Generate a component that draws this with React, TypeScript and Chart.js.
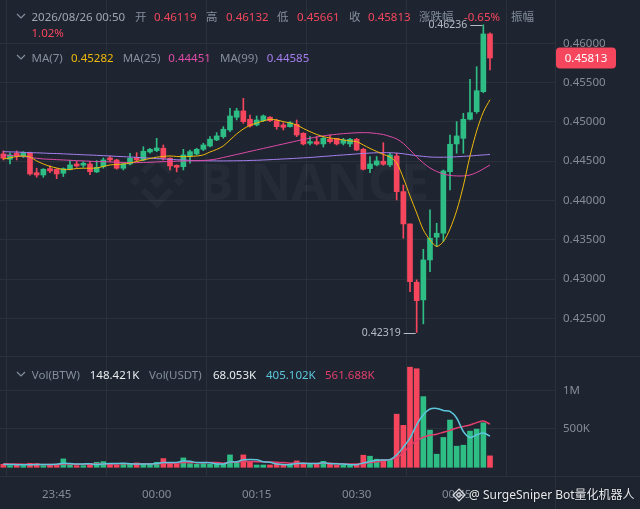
import React, { useEffect, useRef } from 'react';
import { Chart, registerables } from 'chart.js';
Chart.register(...registerables);

// ---------- data ----------
const opens = [0.44592,0.44524,0.44601,0.44566,0.44601,0.44353,0.44324,0.44405,0.44397,0.44346,
 0.44397,0.44464,0.44448,0.44464,0.44363,0.44430,0.44541,0.44515,0.44410,0.44464,
 0.44545,0.44515,0.44617,0.44634,0.44664,0.44537,0.44448,0.44430,0.44570,0.44592,
 0.44651,0.44693,0.44770,0.44812,0.44897,0.45059,0.45139,0.45033,0.44961,0.45015,
 0.45059,0.45015,0.44961,0.44939,0.44969,0.44855,0.44728,0.44748,0.44719,0.44779,
 0.44791,0.44728,0.44719,0.44779,0.44651,0.44405,0.44452,0.44499,0.44452,0.44566,
 0.44112,0.43701,0.42959,0.42734,0.43243,0.43532,0.43583,0.44366,0.44719,0.44791,
 0.45033,0.45130,0.45384,0.46119];
const highs = [0.44630,0.44605,0.44630,0.44621,0.44617,0.44410,0.44405,0.44439,0.44405,0.44414,
 0.44507,0.44498,0.44494,0.44494,0.44507,0.44541,0.44566,0.44524,0.44473,0.44601,
 0.44608,0.44684,0.44664,0.44791,0.44706,0.44541,0.44452,0.44651,0.44642,0.44664,
 0.44728,0.44812,0.44863,0.44939,0.45173,0.45173,0.45300,0.45088,0.45075,0.45088,
 0.45067,0.45033,0.44990,0.45003,0.45024,0.44863,0.44812,0.44812,0.44812,0.44833,
 0.44791,0.44791,0.44791,0.44791,0.44664,0.44558,0.44558,0.44735,0.44601,0.44601,
 0.44197,0.43701,0.42989,0.43379,0.43879,0.43710,0.44388,0.44833,0.45003,0.45109,
 0.45542,0.45702,0.46236,0.46132];
const lows = [0.44515,0.44464,0.44515,0.44545,0.44321,0.44295,0.44295,0.44354,0.44277,0.44304,
 0.44388,0.44422,0.44422,0.44329,0.44354,0.44410,0.44494,0.44397,0.44388,0.44452,
 0.44494,0.44506,0.44601,0.44621,0.44515,0.44388,0.44363,0.44388,0.44473,0.44579,
 0.44634,0.44680,0.44761,0.44791,0.44876,0.45024,0.44982,0.44931,0.44948,0.45003,
 0.45003,0.44906,0.44897,0.44931,0.44812,0.44706,0.44706,0.44706,0.44680,0.44728,
 0.44706,0.44706,0.44684,0.44634,0.44388,0.44354,0.44439,0.44448,0.44430,0.44006,
 0.43519,0.42840,0.42319,0.42429,0.43094,0.43412,0.43476,0.44134,0.44601,0.44601,
 0.45024,0.45109,0.45370,0.45661];
const closes = [0.44537,0.44579,0.44566,0.44608,0.44337,0.44324,0.44397,0.44375,0.44337,0.44405,
 0.44452,0.44439,0.44473,0.44366,0.44422,0.44515,0.44515,0.44410,0.44464,0.44537,
 0.44515,0.44626,0.44651,0.44668,0.44537,0.44439,0.44422,0.44579,0.44621,0.44651,
 0.44706,0.44779,0.44821,0.44906,0.45075,0.45139,0.45003,0.44948,0.45024,0.45075,
 0.45015,0.44939,0.44931,0.44990,0.44833,0.44719,0.44748,0.44719,0.44791,0.44748,
 0.44719,0.44770,0.44779,0.44642,0.44397,0.44464,0.44503,0.44460,0.44579,0.44112,
 0.43701,0.42967,0.42725,0.43243,0.43519,0.43583,0.44375,0.44715,0.44821,0.45033,
 0.45117,0.45397,0.46119,0.45813];
const ma7 = [0.44528,0.44541,0.44560,0.44566,0.44553,0.44503,0.44464,0.44433,0.44413,0.44394,
 0.44394,0.44407,0.44410,0.44410,0.44413,0.44433,0.44452,0.44458,0.44464,0.44477,
 0.44496,0.44515,0.44534,0.44550,0.44560,0.44566,0.44560,0.44557,0.44560,0.44566,
 0.44579,0.44617,0.44649,0.44694,0.44770,0.44846,0.44910,0.44955,0.44986,0.45012,
 0.45033,0.45024,0.45003,0.44986,0.44961,0.44916,0.44876,0.44840,0.44812,0.44795,
 0.44783,0.44770,0.44757,0.44748,0.44706,0.44662,0.44624,0.44585,0.44553,0.44477,
 0.44286,0.44057,0.43841,0.43625,0.43497,0.43415,0.43476,0.43637,0.43870,0.44185,
 0.44566,0.44884,0.45126,0.45282];
const ma25 = [0.44579,0.44573,0.44566,0.44560,0.44547,0.44537,0.44528,0.44524,0.44519,0.44515,
 0.44511,0.44506,0.44503,0.44499,0.44494,0.44494,0.44490,0.44486,0.44483,0.44481,
 0.44481,0.44483,0.44486,0.44490,0.44494,0.44494,0.44499,0.44503,0.44503,0.44506,
 0.44509,0.44515,0.44528,0.44547,0.44566,0.44585,0.44604,0.44624,0.44643,0.44662,
 0.44681,0.44700,0.44719,0.44738,0.44757,0.44776,0.44791,0.44808,0.44821,0.44833,
 0.44842,0.44850,0.44856,0.44861,0.44863,0.44861,0.44851,0.44839,0.44814,0.44783,
 0.44725,0.44643,0.44553,0.44477,0.44413,0.44369,0.44337,0.44318,0.44312,0.44312,
 0.44324,0.44356,0.44401,0.44451];
const ma99 = [0.44621,0.44618,0.44616,0.44612,0.44609,0.44606,0.44603,0.44599,0.44597,0.44593,
 0.44589,0.44585,0.44581,0.44578,0.44574,0.44570,0.44566,0.44561,0.44557,0.44553,
 0.44548,0.44543,0.44538,0.44533,0.44528,0.44523,0.44518,0.44514,0.44510,0.44506,
 0.44505,0.44504,0.44503,0.44503,0.44504,0.44505,0.44506,0.44509,0.44511,0.44515,
 0.44519,0.44523,0.44528,0.44532,0.44537,0.44542,0.44547,0.44553,0.44560,0.44566,
 0.44573,0.44579,0.44585,0.44592,0.44598,0.44603,0.44607,0.44608,0.44607,0.44603,
 0.44594,0.44581,0.44570,0.44561,0.44553,0.44550,0.44550,0.44552,0.44556,0.44561,
 0.44566,0.44573,0.44579,0.44585];
// volume in thousands
const volumesK = [39,22,30,22,52,48,22,39,39,109,
 30,22,22,39,65,74,39,30,48,39,
 57,39,39,65,113,57,48,122,48,39,
 48,39,48,48,161,65,161,74,30,30,
 30,48,39,39,83,52,39,39,78,39,
 30,30,30,39,157,144,105,100,92,690,
 545,1300,1280,918,483,170,388,614,274,287,
 470,496,578,148.421];
const volMaCyanK = [38,36,34,33,33,35,35,37,40,52,
 48,44,44,45,36,44,48,50,51,46,
 43,43,44,48,63,63,64,81,78,63,
 61,59,44,44,69,72,97,102,98,72,
 65,42,35,37,48,52,50,50,58,49,
 45,43,33,34,57,76,90,95,100,160,
 261,378,552,683,757,765,739,726,640,465,
 387,422,444,405.102];
const volMaPinkK = [45,44,42,40,40,38,37,36,36,42,
 41,40,40,42,42,44,44,44,46,46,
 46,45,46,47,53,53,53,62,62,60,
 60,62,61,54,66,67,78,76,72,71,
 68,67,62,54,56,52,50,50,53,51,
 48,46,42,42,51,62,72,82,100,125,
 190,280,345,390,415,430,455,480,510,530,
 550,580,600,561.688];
const timeTickIndex = [8, 23, 38, 53, 68];
const timeTickLabels = ['23:45', '00:00', '00:15', '00:30', '00:45'];
const priceTicks = [0.425, 0.43, 0.435, 0.44, 0.445, 0.45, 0.455, 0.46];
const volTicks = [500000, 1000000];
const volTickLabels = ['500K', '1M'];

// ---------- styles ----------
const BG = '#1e2530';
const GRID = '#2a313b';
const AXIS_TEXT = '#858c97';
const LABEL = '#848e9c';
const DATE = '#a1a7b0';
const UP = '#2ebd85';
const DOWN = '#f6465d';
const C_MA7 = '#f0b90b';
const C_MA25 = '#e04aa8';
const C_MA99 = '#a67ff0';
const C_VCYAN = '#5cc6dc';
const C_VPINK = '#e33e6c';
const FONT = '"Noto Sans", "Noto Sans CJK SC", sans-serif';

const headerItems = [
  { x: 31.5, y: 16.5, t: '2026/08/26 00:50', c: DATE },
  { x: 135, y: 16.5, t: '开', c: LABEL },
  { x: 154, y: 16.5, t: '0.46119', c: DOWN },
  { x: 206, y: 16.5, t: '高', c: LABEL },
  { x: 226, y: 16.5, t: '0.46132', c: DOWN },
  { x: 277, y: 16.5, t: '低', c: LABEL },
  { x: 297, y: 16.5, t: '0.45661', c: DOWN },
  { x: 349, y: 16.5, t: '收', c: LABEL },
  { x: 368, y: 16.5, t: '0.45813', c: DOWN },
  { x: 419, y: 16.5, t: '涨跌幅', c: LABEL },
  { x: 464, y: 16.5, t: '-0.65%', c: DOWN },
  { x: 511, y: 16.5, t: '振幅', c: LABEL },
  { x: 31.5, y: 32.5, t: '1.02%', c: DOWN },
  { x: 31.5, y: 58.3, t: 'MA(7)', c: LABEL },
  { x: 71, y: 58.3, t: '0.45282', c: C_MA7 },
  { x: 122.7, y: 58.3, t: 'MA(25)', c: LABEL },
  { x: 168.3, y: 58.3, t: '0.44451', c: C_MA25 },
  { x: 220, y: 58.3, t: 'MA(99)', c: LABEL },
  { x: 266.7, y: 58.3, t: '0.44585', c: C_MA99 },
  { x: 31.8, y: 375, t: 'Vol(BTW)', c: LABEL },
  { x: 89.8, y: 375, t: '148.421K', c: '#eaecef' },
  { x: 149, y: 375, t: 'Vol(USDT)', c: LABEL },
  { x: 213, y: 375, t: '68.053K', c: '#eaecef' },
  { x: 266, y: 375, t: '405.102K', c: C_VCYAN },
  { x: 325, y: 375, t: '561.688K', c: C_VPINK },
];
const chevronRows = [16.5, 58.3, 375];

const candleColor = opens.map((o, i) => (closes[i] >= o ? UP : DOWN));

function diamond(ctx: CanvasRenderingContext2D, x: number, y: number, r: number) {
  ctx.beginPath();
  ctx.moveTo(x, y - r); ctx.lineTo(x + r, y); ctx.lineTo(x, y + r); ctx.lineTo(x - r, y);
  ctx.closePath(); ctx.fill();
}

const pricePlugin = {
  id: 'priceDeco',
  beforeDatasetsDraw(chart: any) {
    const { ctx, chartArea } = chart;
    const off = document.createElement('canvas');
    off.width = chart.width; off.height = chart.height;
    const o = off.getContext('2d') as CanvasRenderingContext2D;
    o.fillStyle = '#ffffff'; o.strokeStyle = '#ffffff';
    const cx = 157, cy = 181;
    diamond(o, cx, cy, 7);
    diamond(o, cx - 22, cy, 5);
    diamond(o, cx + 22, cy, 5);
    o.lineWidth = 6; o.lineJoin = 'miter';
    o.beginPath(); o.moveTo(cx - 14, cy - 9); o.lineTo(cx, cy - 23); o.lineTo(cx + 14, cy - 9); o.stroke();
    o.beginPath(); o.moveTo(cx - 14, cy + 9); o.lineTo(cx, cy + 23); o.lineTo(cx + 14, cy + 9); o.stroke();
    let size = 48;
    o.font = `bold ${size}px "Open Sans"`;
    const w = o.measureText('BINANCE').width;
    size = size * 230 / w;
    o.font = `bold ${size}px "Open Sans"`;
    o.textBaseline = 'alphabetic';
    o.fillText('BINANCE', 199, 200);
    ctx.save();
    ctx.beginPath(); ctx.rect(chartArea.left, chartArea.top, chartArea.width, chartArea.height); ctx.clip();
    ctx.globalAlpha = 0.035;
    ctx.drawImage(off, 0, 0);
    ctx.restore();
  },
  afterDatasetsDraw(chart: any) {
    const { ctx } = chart;
    const xs = chart.scales.x, ys = chart.scales.y;
    const hi = Math.max(...highs), lo = Math.min(...lows);
    const hiIdx = highs.indexOf(hi), loIdx = lows.indexOf(lo);
    ctx.save();
    ctx.strokeStyle = '#b7bdc6'; ctx.fillStyle = '#b7bdc6'; ctx.lineWidth = 1;
    ctx.font = `10.5px ${FONT}`; ctx.textAlign = 'right'; ctx.textBaseline = 'middle';
    const mark = (idx: number, v: number) => {
      const px = xs.getPixelForValue(idx), py = Math.round(ys.getPixelForValue(v)) + 0.5;
      ctx.beginPath(); ctx.moveTo(px - 13, py); ctx.lineTo(px - 1, py); ctx.stroke();
      ctx.fillText(v.toFixed(5), px - 16, py);
    };
    mark(hiIdx, hi);
    mark(loIdx, lo);
    ctx.restore();
  },
  afterDraw(chart: any) {
    const { ctx, chartArea } = chart;
    const ys = chart.scales.y;
    const last = closes.length - 1;
    const py = ys.getPixelForValue(closes[last]);
    ctx.save();
    ctx.strokeStyle = GRID; ctx.lineWidth = 1;
    ctx.beginPath(); ctx.moveTo(0, chartArea.bottom - 0.5); ctx.lineTo(chart.width, chartArea.bottom - 0.5); ctx.stroke();
    ctx.fillStyle = candleColor[last];
    ctx.beginPath();
    (ctx as any).roundRect(556, py - 10.5, 60, 21, 4);
    ctx.fill();
    ctx.fillStyle = '#ffffff';
    ctx.font = `11.5px ${FONT}`; ctx.textAlign = 'center'; ctx.textBaseline = 'middle';
    ctx.fillText(closes[last].toFixed(5), 586, py + 0.5);
    ctx.restore();
  },
};

const volPlugin = {
  id: 'volDeco',
  afterDraw(chart: any) {
    const { ctx, chartArea } = chart;
    ctx.save();
    ctx.strokeStyle = GRID; ctx.lineWidth = 1;
    ctx.beginPath(); ctx.moveTo(0, chartArea.bottom + 0.5); ctx.lineTo(chart.width, chartArea.bottom + 0.5); ctx.stroke();
    ctx.beginPath(); ctx.moveTo(chartArea.right + 0.5, 0); ctx.lineTo(chartArea.right + 0.5, chart.height); ctx.stroke();
    ctx.restore();
  },
};

const X_MIN = -0.5;
const X_MAX = 82.75;

export default function App() {
  const priceRef = useRef<HTMLCanvasElement>(null);
  const volRef = useRef<HTMLCanvasElement>(null);

  useEffect(() => {
    const xTicksAfterBuild = (s: any) => { s.ticks = timeTickIndex.map((v) => ({ value: v })); };
    const priceChart = new Chart(priceRef.current as HTMLCanvasElement, {
      type: 'bar',
      data: {
        datasets: [
          { type: 'line', data: ma7.map((v, i) => ({ x: i, y: v })), borderColor: C_MA7, borderWidth: 1, pointRadius: 0, tension: 0.3, order: 0 } as any,
          { type: 'line', data: ma25.map((v, i) => ({ x: i, y: v })), borderColor: C_MA25, borderWidth: 1, pointRadius: 0, tension: 0.3, order: 0 } as any,
          { type: 'line', data: ma99.map((v, i) => ({ x: i, y: v })), borderColor: C_MA99, borderWidth: 1, pointRadius: 0, tension: 0.3, order: 0 } as any,
          { type: 'bar', data: lows.map((l, i) => ({ x: i, y: [l, highs[i]] })), backgroundColor: candleColor, barThickness: 1, grouped: false, order: 2 } as any,
          { type: 'bar', data: opens.map((o, i) => ({ x: i, y: [o, closes[i]] })), backgroundColor: candleColor, barThickness: 5, minBarLength: 1, grouped: false, order: 1 } as any,
        ],
      },
      options: {
        animation: false,
        responsive: false,
        maintainAspectRatio: false,
        events: [],
        layout: { padding: 0 },
        plugins: { legend: { display: false }, tooltip: { enabled: false } },
        scales: {
          x: {
            type: 'linear', min: X_MIN, max: X_MAX, offset: false,
            grid: { color: GRID, drawTicks: false }, border: { display: false },
            ticks: { display: false },
            afterBuildTicks: xTicksAfterBuild,
            afterFit: (s: any) => { s.height = 0; s.paddingLeft = 0; s.paddingRight = 0; },
          },
          y: {
            type: 'linear', position: 'right', min: 0.420074, max: 0.465511,
            grid: { color: GRID, drawTicks: false }, border: { display: true, color: GRID },
            ticks: { color: AXIS_TEXT, font: { family: FONT, size: 11.5 }, padding: 8, callback: (v: any) => Number(v).toFixed(5) },
            afterBuildTicks: (s: any) => { s.ticks = priceTicks.map((v) => ({ value: v })); },
            afterFit: (s: any) => { s.width = 85; s.paddingTop = 0; s.paddingBottom = 0; },
          },
        },
      } as any,
      plugins: [pricePlugin],
    });

    const volChart = new Chart(volRef.current as HTMLCanvasElement, {
      type: 'bar',
      data: {
        datasets: [
          { type: 'line', data: volMaCyanK.map((v, i) => ({ x: i, y: v * 1000 })), borderColor: C_VCYAN, borderWidth: 1.5, pointRadius: 0, tension: 0.3, order: 0 } as any,
          { type: 'line', data: volMaPinkK.map((v, i) => ({ x: i, y: v * 1000 })), borderColor: C_VPINK, borderWidth: 1.5, pointRadius: 0, tension: 0.3, order: 0 } as any,
          { type: 'bar', data: volumesK.map((v, i) => ({ x: i, y: v * 1000 })), backgroundColor: candleColor, barThickness: 5, grouped: false, order: 1 } as any,
        ],
      },
      options: {
        animation: false,
        responsive: false,
        maintainAspectRatio: false,
        events: [],
        layout: { padding: 0 },
        plugins: { legend: { display: false }, tooltip: { enabled: false } },
        scales: {
          x: {
            type: 'linear', min: X_MIN, max: X_MAX, offset: false,
            grid: { color: GRID, drawTicks: false }, border: { display: false },
            ticks: {
              color: AXIS_TEXT, font: { family: FONT, size: 11.5 }, padding: 12, maxRotation: 0, autoSkip: false,
              callback: (v: any) => timeTickLabels[timeTickIndex.indexOf(Number(v))] ?? '',
            },
            afterBuildTicks: xTicksAfterBuild,
            afterFit: (s: any) => { s.height = 33; s.paddingLeft = 0; s.paddingRight = 0; },
          },
          y: {
            type: 'linear', position: 'right', min: -112987, max: 1432468,
            grid: { color: GRID, drawTicks: false }, border: { display: false },
            ticks: {
              color: AXIS_TEXT, font: { family: FONT, size: 11.5 }, padding: 8,
              callback: (v: any) => volTickLabels[volTicks.indexOf(Number(v))] ?? '',
            },
            afterBuildTicks: (s: any) => { s.ticks = volTicks.map((v) => ({ value: v })); },
            afterFit: (s: any) => { s.width = 85; s.paddingTop = 0; s.paddingBottom = 0; },
          },
        },
      } as any,
      plugins: [volPlugin],
    });

    return () => { priceChart.destroy(); volChart.destroy(); };
  }, []);

  const textStyle = (x: number, y: number, c: string): React.CSSProperties => ({
    position: 'absolute', left: x, top: y - 8, lineHeight: '16px', fontSize: 11.5, color: c, whiteSpace: 'nowrap',
  });

  return (
    <div style={{ position: 'fixed', left: 0, top: 0, width: 640, height: 509, background: BG, overflow: 'hidden', fontFamily: FONT }}>
      <canvas ref={priceRef} width={640} height={357} style={{ position: 'absolute', left: 0, top: 0, display: 'block' }} />
      <canvas ref={volRef} width={640} height={152} style={{ position: 'absolute', left: 0, top: 357, display: 'block' }} />
      {chevronRows.map((y, i) => (
        <svg key={'c' + i} width={10} height={7} style={{ position: 'absolute', left: 16, top: y - 4 }}>
          <polyline points="1,1 5,5 9,1" fill="none" stroke={LABEL} strokeWidth={1.2} />
        </svg>
      ))}
      {headerItems.map((it, i) => (
        <span key={i} style={textStyle(it.x, it.y, it.c)}>{it.t}</span>
      ))}
      <svg width={14} height={14} style={{ position: 'absolute', left: 452, top: 488 }}>
        <g fill="none" stroke="#d8dbe0" strokeWidth={1.2}>
          <path d="M7 1 L13 7 L7 13 L1 7 Z" />
          <path d="M7 4.5 L9.5 7 L7 9.5 L4.5 7 Z" />
        </g>
      </svg>
      <span style={{ position: 'absolute', left: 469, top: 487, lineHeight: '16px', fontSize: 12, color: '#e6e8eb', whiteSpace: 'nowrap', textShadow: '0 0 2px rgba(0,0,0,0.6)' }}>
        @ SurgeSniper Bot量化机器人
      </span>
    </div>
  );
}
